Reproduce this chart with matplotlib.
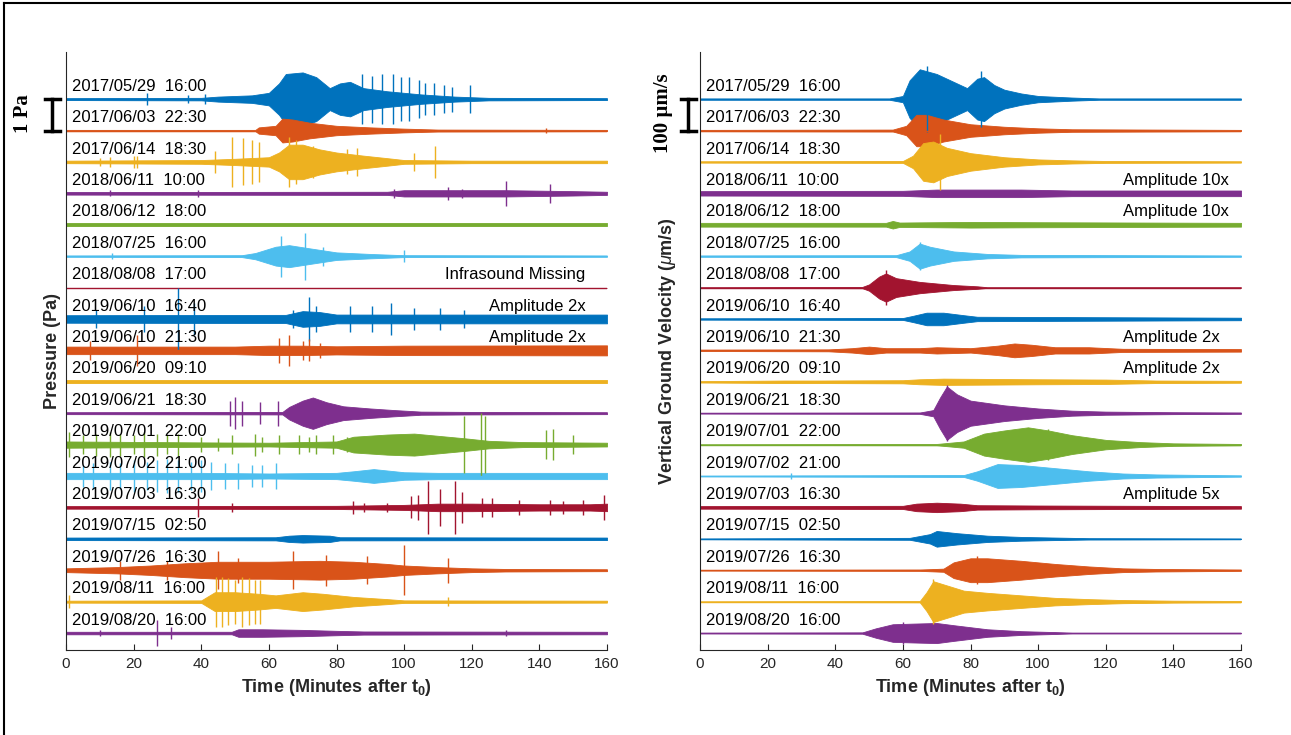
import matplotlib
matplotlib.use("Agg")
import matplotlib.pyplot as plt
from matplotlib.lines import Line2D

plt.rcParams['font.family'] = ['Liberation Sans', 'DejaVu Sans']
plt.rcParams['mathtext.fontset'] = 'custom'
plt.rcParams['mathtext.rm'] = 'Liberation Sans'
plt.rcParams['mathtext.it'] = 'Liberation Sans:italic'
plt.rcParams['mathtext.bf'] = 'Liberation Sans:bold'

# event start times (labels on each trace)
dates = ["2017/05/29  16:00", "2017/06/03  22:30", "2017/06/14  18:30",
         "2018/06/11  10:00", "2018/06/12  18:00", "2018/07/25  16:00",
         "2018/08/08  17:00", "2019/06/10  16:40", "2019/06/10  21:30",
         "2019/06/20  09:10", "2019/06/21  18:30", "2019/07/01  22:00",
         "2019/07/02  21:00", "2019/07/03  16:30", "2019/07/15  02:50",
         "2019/07/26  16:30", "2019/08/11  16:00", "2019/08/20  16:00"]

# matlab default color order
cols = ["#0072BD", "#D95319", "#EDB120", "#7E2F8E", "#77AC30", "#4DBEEE", "#A2142F"]

# --- infrasound (pressure) envelopes: (minute, half-amplitude in trace spacings)
p_env = [
    [(0, .03), (40, .04), (45, .08), (55, .12), (60, .2), (63, .5), (65, .8), (70, .85), (74, .7), (78, .35),
     (81, .5), (84, .55), (88, .35), (95, .25), (105, .15), (115, .08), (125, .04), (160, .03)],
    [(0, .02), (56, .02), (57, .1), (62, .15), (64, .38), (67, .35), (72, .25), (80, .15), (90, .1), (100, .06),
     (110, .03), (160, .02)],
    [(0, .04), (20, .05), (40, .06), (50, .1), (60, .15), (63, .3), (66, .55), (70, .55), (75, .4), (80, .3),
     (88, .2), (95, .12), (100, .06), (120, .04), (160, .04)],
    [(0, .04), (95, .05), (100, .1), (130, .1), (150, .07), (160, .05)],
    [(0, .05), (160, .05)],
    [(0, .02), (52, .03), (56, .1), (62, .3), (66, .35), (72, .25), (80, .12), (90, .07), (100, .03), (160, .02)],
    [(0, 0), (160, 0)],
    [(0, .12), (65, .13), (70, .25), (75, .22), (80, .14), (160, .14)],
    [(0, .12), (50, .12), (60, .15), (70, .15), (80, .13), (100, .15), (160, .16)],
    [(0, .05), (160, .05)],
    [(0, .03), (64, .04), (66, .2), (70, .4), (73, .5), (77, .35), (82, .22), (90, .15), (97, .1), (105, .05),
     (120, .04), (160, .03)],
    [(0, .1), (40, .07), (60, .06), (80, .1), (85, .25), (95, .32), (103, .35), (110, .28), (118, .2), (125, .12),
     (135, .08), (160, .06)],
    [(0, .1), (40, .1), (60, .08), (80, .1), (85, .15), (91, .22), (100, .12), (110, .1), (160, .1)],
    [(0, .04), (80, .05), (100, .08), (110, .12), (120, .12), (140, .1), (155, .1), (160, .12)],
    [(0, .04), (62, .05), (66, .1), (70, .12), (78, .1), (81, .05), (160, .04)],
    [(0, .06), (15, .1), (25, .15), (35, .22), (45, .27), (60, .27), (75, .3), (85, .27), (95, .2), (100, .15),
     (110, .1), (120, .06), (130, .04), (160, .03)],
    [(0, .03), (40, .04), (44, .3), (50, .3), (57, .25), (62, .2), (70, .3), (76, .25), (85, .15), (95, .08),
     (100, .04), (160, .03)],
    [(0, .04), (49, .04), (51, .12), (58, .12), (70, .1), (80, .07), (88, .05), (160, .04)],
]

# impulsive spikes (minute, half-height)
p_spikes = [
    [(24, .2), (36, .12), (41, .15), (87.6, .8), (90.6, .75), (93.6, .8), (96.6, .8), (99, .7), (101.5, .7),
     (104.5, .6), (106.3, .5), (108.7, .5), (111.7, .45), (114.2, .4), (119.6, .45)],
    [(142, .08)],
    [(10, .12), (13, .15), (20, .2), (21, .2), (44, .35), (49, .8), (52.4, .75), (55, .7), (57, .65), (66, .8),
     (68, .7), (73, .5), (83, .4), (86, .45), (103, .3), (109, .5)],
    [(13, .1), (39, .12), (97, .15), (113, .2), (117, .15), (130, .4), (143, .3)],
    [],
    [(13.6, .1), (63.5, .65), (70.7, .75), (76, .3), (100, .2)],
    [],
    [(9, .3), (23, .4), (33, 1.0), (38, .5), (67, .3), (72, .7), (74, .4), (84, .4), (90.6, .4), (96, .5),
     (103, .35), (110.5, .35), (117.8, .3)],
    [(7, .3), (21, .5), (63, .4), (66, .5), (70, .3), (72, .35), (75, .25)],
    [],
    [(48.4, .4), (50, .5), (52, .4), (57.4, .35), (62.6, .4)],
    [(1, .4), (5, .3), (9, .35), (13, .4), (16, .35), (20, .3), (23, .4), (27, .35), (30, .3), (33, .35),
     (40, .25), (45, .2), (49, .3), (56, .35), (58, .25), (63, .3), (69, .3), (72, .25), (74, .3), (79, .3),
     (83, .25), (117.8, .9), (122.6, 1.0), (123.8, .9), (142, .45), (144, .5), (150, .3)],
    [(5, .35), (8, .4), (13, .45), (16, .4), (20, .5), (24, .45), (27, .5), (30, .55), (33, .5), (37, .45),
     (40, .5), (43, .45), (47, .4), (51, .4), (55, .35), (58, .35), (62, .4)],
    [(39, .3), (49, .15), (85, .2), (88, .15), (95, .15), (102, .35), (104, .4), (107, .85), (110.6, .6),
     (115, .85), (117, .5), (123, .3), (126, .3), (134, .25), (143, .25), (147, .2), (153, .25), (159, .4)],
    [],
    [(16, .3), (30, .3), (45, .6), (51, .4), (67, .6), (77, .5), (89, .45), (100, .8), (113, .4)],
    [(1, .2), (44.5, .8), (46, .8), (48, .75), (50, .7), (52, .8), (54, .75), (56, .7), (57.5, .7), (113, .15)],
    [(10, .1), (27, .4), (31, .2), (130, .1)],
]

p_notes = {6: "Infrasound Missing", 7: "Amplitude 2x", 8: "Amplitude 2x"}

# --- seismic (vertical velocity) envelopes
s_env = [
    [(0, .02), (56, .02), (60, .1), (62, .6), (65, .95), (70, .8), (75, .55), (79, .35), (82, .65), (84, .7),
     (87, .45), (90, .3), (95, .18), (100, .1), (110, .05), (118, .02), (160, .02)],
    [(0, .02), (57, .03), (61, .15), (64, .5), (67, .5), (72, .35), (80, .2), (90, .12), (100, .07), (110, .04),
     (160, .02)],
    [(0, .02), (60, .03), (63, .2), (66, .6), (69, .65), (73, .45), (80, .28), (90, .15), (100, .08), (110, .05),
     (120, .03), (160, .02)],
    [(0, .07), (60, .08), (70, .12), (95, .12), (110, .09), (160, .09)],
    [(0, .06), (55, .06), (57, .12), (59, .07), (80, .09), (100, .08), (160, .06)],
    [(0, .02), (58, .03), (62, .15), (65, .4), (68, .3), (75, .15), (85, .07), (95, .04), (160, .02)],
    [(0, .01), (48, .02), (50, .1), (53, .35), (55, .45), (58, .3), (65, .18), (75, .08), (82, .04), (85, .01),
     (160, .01)],
    [(0, .02), (60, .03), (63, .1), (67, .2), (72, .2), (78, .12), (82, .07), (160, .04)],
    [(0, .02), (38, .03), (45, .07), (50, .12), (55, .07), (65, .07), (70, .1), (80, .07), (88, .15), (93, .22),
     (98, .18), (105, .1), (115, .1), (125, .05), (160, .04)],
    [(0, .02), (25, .04), (35, .04), (60, .05), (65, .08), (72, .1), (100, .08), (120, .07), (135, .04), (160, .03)],
    [(0, .01), (65, .02), (69, .1), (71, .5), (73, .85), (76, .6), (80, .4), (90, .25), (100, .15), (110, .08),
     (120, .05), (140, .03), (160, .02)],
    [(0, .01), (70, .02), (78, .1), (84, .35), (90, .45), (97, .55), (103, .45), (110, .3), (120, .15), (130, .08),
     (140, .04), (160, .02)],
    [(0, .01), (78, .03), (82, .15), (88, .38), (95, .35), (105, .25), (115, .15), (125, .08), (135, .05), (160, .02)],
    [(0, .04), (60, .05), (64, .12), (70, .15), (77, .12), (82, .07), (100, .06), (160, .04)],
    [(0, .01), (62, .03), (68, .15), (70, .25), (76, .18), (85, .1), (95, .06), (105, .04), (115, .02), (160, .01)],
    [(0, .01), (65, .02), (72, .05), (75, .25), (80, .38), (85, .38), (95, .3), (105, .2), (115, .12), (125, .06),
     (135, .04), (160, .02)],
    [(0, .01), (65, .02), (67, .3), (69, .65), (72, .55), (78, .35), (85, .28), (95, .2), (105, .12), (115, .08),
     (125, .05), (140, .03), (160, .02)],
    [(0, .01), (48, .02), (52, .15), (57, .28), (63, .3), (70, .32), (75, .25), (85, .12), (95, .06), (105, .03),
     (110, .01), (160, .01)],
]

s_spikes = [
    [(67, 1.05), (83, .9)], [], [(71, .9)], [], [], [(65, .45)], [(55, .55)], [], [], [],
    [(73, .9)], [(103, .5)], [(27, .08)], [], [], [(82, .45)], [(69, .72)], [(60, .35)],
]

s_notes = {3: "Amplitude 10x", 4: "Amplitude 10x", 8: "Amplitude 2x", 9: "Amplitude 2x", 13: "Amplitude 5x"}

W, H = 1291, 735
fig = plt.figure(figsize=(W / 100, H / 100), dpi=100)


def draw_panel(ax, env, spikes, notes, note_x, note_ha):
    for i in range(len(dates)):
        off = -i
        c = cols[i % 7]
        t = [k[0] for k in env[i]]
        a = [k[1] for k in env[i]]
        ax.plot([0, 160], [off, off], color=c, lw=1.0)
        ax.fill_between(t, [off - v for v in a], [off + v for v in a], color=c, lw=0.6)
        if spikes[i]:
            st = [s[0] for s in spikes[i]]
            sh = [s[1] for s in spikes[i]]
            ax.vlines(st, [off - h for h in sh], [off + h for h in sh], color=c, lw=1.0)
        ax.text(1.9, off + 0.41, dates[i], fontsize=12, va='center', ha='left', zorder=5)
        if i in notes:
            ax.text(note_x, off + 0.41, notes[i], fontsize=12, va='center', ha=note_ha, zorder=5)
    ax.set_xlim(0, 160)
    ax.set_ylim(-17.54, 1.5)
    ax.set_xticks(range(0, 161, 20))
    ax.set_yticks([])
    for s in ['top', 'right']:
        ax.spines[s].set_visible(False)
    for s in ['left', 'bottom']:
        ax.spines[s].set_color('#262626')
        ax.spines[s].set_linewidth(0.8)
    ax.tick_params(axis='x', direction='in', length=4, labelsize=11, colors='#262626', pad=5)
    ax.set_xlabel(r'Time (Minutes after t$_\mathbf{0}$)', fontsize=13, fontweight='bold', color='#262626')


axL = fig.add_axes([66 / W, 1 - 650 / H, 541 / W, 598 / H])
draw_panel(axL, p_env, p_spikes, p_notes, 153.6, 'right')
axL.set_ylabel('Pressure (Pa)', fontsize=13, fontweight='bold', color='#262626')
axL.yaxis.set_label_coords(-0.01, 0.5)

axR = fig.add_axes([700 / W, 1 - 650 / H, 541 / W, 598 / H])
draw_panel(axR, s_env, s_spikes, s_notes, 125, 'left')
axR.set_ylabel(r'Vertical Ground Velocity ($\mu$m/s)', fontsize=13, fontweight='bold', color='#262626')
axR.yaxis.set_label_coords(-0.041, 0.5)

# scale bars
for ax, bx, tx, lab in [(axL, -4.1, -12.7, "1 Pa"), (axR, -3.5, -11.0, "100 µm/s")]:
    ax.plot([bx, bx], [0, -1], color='k', lw=2.5, clip_on=False)
    ax.plot([bx - 2.2, bx + 2.2], [0, 0], color='k', lw=2.5, clip_on=False)
    ax.plot([bx - 2.2, bx + 2.2], [-1, -1], color='k', lw=2.5, clip_on=False)
    ax.text(tx, -0.45, lab, rotation=90, fontsize=15, fontweight='bold', family='Liberation Serif',
            ha='center', va='center', clip_on=False)

# outer frame (left and top edges visible)
fig.add_artist(Line2D([4 / W, 4 / W], [0, 1 - 3 / H], color='k', lw=1.5))
fig.add_artist(Line2D([4 / W, 1], [1 - 3 / H, 1 - 3 / H], color='k', lw=1.5))

fig.savefig("out.png", dpi=100)
